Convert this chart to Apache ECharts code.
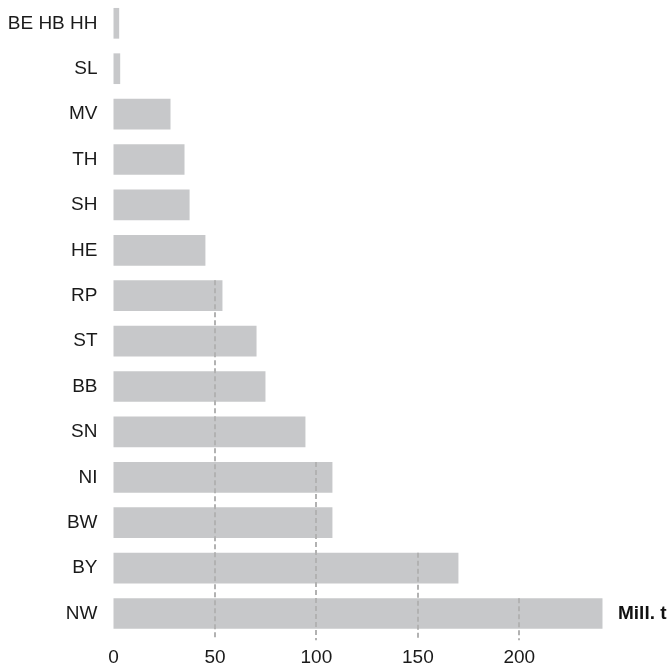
<!DOCTYPE html>
<html>
<head>
<meta charset="utf-8">
<script src="https://cdn.jsdelivr.net/npm/echarts@6/dist/echarts.min.js"></script>
<style>html,body{margin:0;padding:0;background:#fff;}#c{width:671px;height:668px;}</style>
</head>
<body>
<div id="c"></div>
<script>
const categories = ['BE HB HH','SL','MV','TH','SH','HE','RP','ST','BB','SN','NI','BW','BY','NW'];
const values = [2.8, 3.3, 28.1, 35, 37.5, 45.3, 53.7, 70.5, 74.9, 94.6, 107.9, 107.9, 170, 241];
const xTicks = [0, 50, 100, 150, 200];
const unitLabel = 'Mill. t';

const BAR_FRAC = 0.676;
const FONT = '"Liberation Sans", Arial, Helvetica, sans-serif';

// gridline segments: start at the first bar (from top) exceeding the tick value
const gridData = xTicks.filter(v => v > 0).map(v => {
  let idx = values.findIndex(x => x > v);
  if (idx < 0) idx = categories.length - 1;
  return [v, idx];
});

const chart = echarts.init(document.getElementById('c'));
chart.setOption({
  animation: false,
  grid: { left: 113.5, top: 0.6, width: 507.25, height: 635.6, containLabel: false },
  xAxis: {
    type: 'value', min: 0, max: 250, interval: 50,
    axisLine: { show: false }, axisTick: { show: false }, splitLine: { show: false },
    axisLabel: {
      showMaxLabel: false, margin: 12,
      color: '#1a1a1a', fontSize: 19, fontFamily: FONT,
      formatter: v => (xTicks.indexOf(v) >= 0 ? String(v) : '')
    }
  },
  yAxis: {
    type: 'category', data: categories, inverse: true,
    axisLine: { show: false }, axisTick: { show: false }, splitLine: { show: false },
    axisLabel: { margin: 16, color: '#1a1a1a', fontSize: 19, fontFamily: FONT }
  },
  series: [
    {
      type: 'bar', data: values, barWidth: (BAR_FRAC * 100) + '%',
      itemStyle: { color: '#c7c8ca' }, z: 2, silent: true
    },
    {
      type: 'custom', z: 5, silent: true,
      data: gridData,
      renderItem: function (params, api) {
        const v = api.value(0), idx = api.value(1);
        const p = api.coord([v, idx]);
        const band = api.size([0, 1])[1];
        const y0 = p[1] - band * BAR_FRAC / 2;
        const last = api.coord([v, categories.length - 1]);
        const y1 = last[1] + band / 2 + 4;
        return {
          type: 'line',
          shape: { x1: Math.round(p[0]), y1: y0, x2: Math.round(p[0]), y2: y1 },
          style: { stroke: '#b2b2b2', lineWidth: 2, lineDash: [5, 3] }
        };
      }
    }
  ],
  graphic: [
    {
      type: 'text', left: 618, top: 604,
      style: { text: unitLabel, fill: '#111', font: 'bold 19px ' + FONT }
    }
  ]
});
</script>
</body>
</html>
